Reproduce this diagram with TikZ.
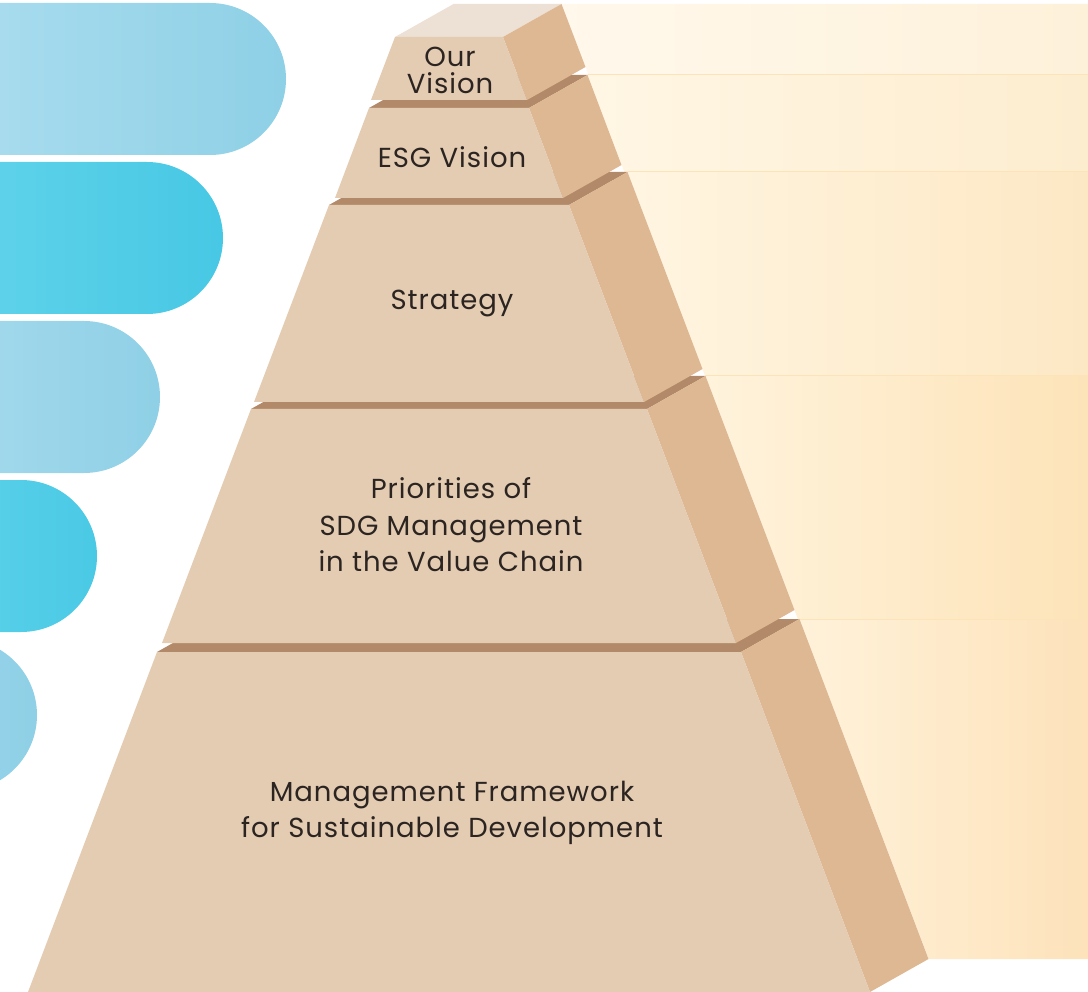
\documentclass[tikz,border=0pt]{standalone}
\usepackage{fontspec}
\setmainfont{Poppins}[LetterSpace=3.5]

\definecolor{frontC}{HTML}{E4CCB3}
\definecolor{sideC}{HTML}{DEB793}
\definecolor{ledgeC}{HTML}{B38A69}
\definecolor{capC}{HTML}{EDE0D4}
\definecolor{inkC}{HTML}{2B2421}
\definecolor{seamC}{HTML}{FDE4B8}

% one block of the pyramid: top y, bottom y, top half width, bottom half width, top-face colour
\newcommand\pyrtier[5]{%
  \fill[#5] ({449-#3},#1) -- ++(58.5,-33) -- ({449+#3+58.5},{#1-33}) -- ({449+#3},#1) -- cycle;
  \fill[sideC] ({449+#3},#1) -- ++(58.5,-33) -- ({449+#4+58.5},{#2-33}) -- ({449+#4},#2) -- cycle;
  \fill[frontC] ({449-#3},#1) -- ({449+#3},#1) -- ({449+#4},#2) -- ({449-#4},#2) -- cycle;
}

% cream band behind the pyramid: top y, bottom y, left x at top, left colour, right colour (hex)
\newcommand\creamband[5]{%
  \definecolor{bandL}{HTML}{#4}\definecolor{bandR}{HTML}{#5}%
  \shade[left color=bandL,right color=bandR] (#3,#1) -- (1090,#1) -- (1090,#2) -- ({#3+0.38*(#2-#1)},#2) -- cycle;
}

% rounded bar on the left: centre y, right end x, left colour, right colour (hex)
\newcommand\leftpill[4]{%
  \definecolor{pillL}{HTML}{#3}\definecolor{pillR}{HTML}{#4}%
  \shade[left color=pillL,right color=pillR] (-20,{#1-76}) -- ({#2-76},{#1-76})
    arc[start angle=-90,end angle=90,radius=76] -- (-20,{#1+76}) -- cycle;
}

\begin{document}
\begin{tikzpicture}[x=1pt,y=-1pt,
  lbl/.style={text=inkC, align=center, inner sep=0pt,
              font=\fontsize{27.5pt}{36.5pt}\selectfont}]
\useasboundingbox (0,0) rectangle (1088,992);
\clip (0,0) rectangle (1088,992);

% bars on the left
\leftpill{79}{286}{A9DCEE}{8ED0E6}
\leftpill{238}{223}{5FD2EA}{47C8E4}
\leftpill{397}{160}{A2D8EC}{8FD0E6}
\leftpill{556}{97}{58D0E9}{4AC9E5}
\leftpill{715}{37}{96D3E8}{8FD0E6}

% cream bands on the right
\creamband{4}{75}{561.5}{FFF8EB}{FEF1DA}
\creamband{75}{172}{587.5}{FFF6E4}{FDEDCF}
\creamband{172}{376}{627.5}{FFF5E1}{FDE8C4}
\creamband{376}{619}{705.5}{FFF3DC}{FDE3B8}
\creamband{619}{959}{799.5}{FFF2DA}{FDE2BA}
\draw[seamC, line width=1pt] (587.5,75) -- (1090,75);
\draw[seamC, line width=1pt] (627.5,172) -- (1090,172);
\draw[seamC, line width=1pt] (705.5,376) -- (1090,376);
\draw[seamC, line width=1pt] (799.5,619) -- (1090,619);

% pyramid, bottom block first
\pyrtier{652}{992}{292}{421}{ledgeC}
\pyrtier{409}{643}{198}{287}{ledgeC}
\pyrtier{205}{402}{120}{195}{ledgeC}
\pyrtier{108}{198}{80}{114}{ledgeC}
\pyrtier{37}{100}{54}{78}{capC}

% labels
\node[lbl, font=\fontsize{27.5pt}{27pt}\selectfont] (ourvision) at (450,70) {Our\\Vision};
\node[lbl] (esgvision) at (452,157) {ESG Vision};
\node[lbl] (strategy) at (452,304) {Strategy};
\node[lbl] (priorities) at (451,525) {Priorities of\\SDG Management\\in the Value Chain};
\node[lbl] (framework) at (452,813) {Management Framework\\for Sustainable Development};
\end{tikzpicture}
\end{document}
